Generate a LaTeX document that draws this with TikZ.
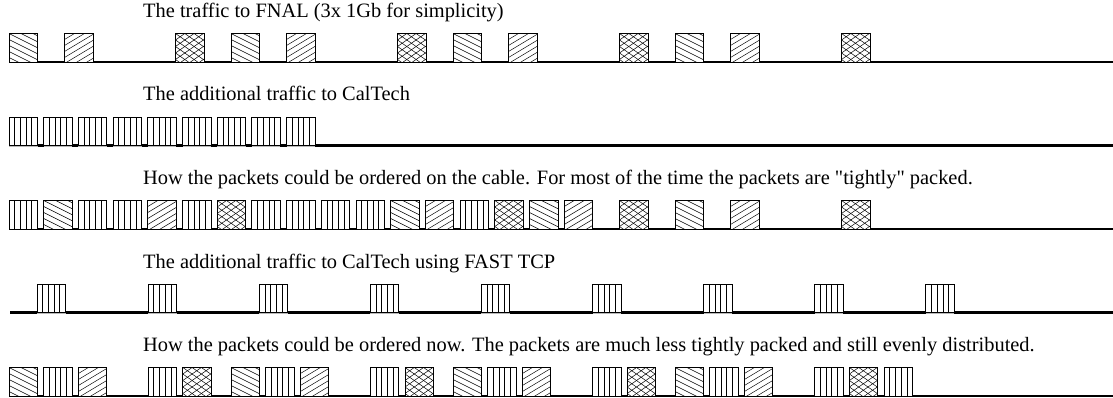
\documentclass[tikz,border=0pt]{standalone}
\usepackage{fontspec}
\setmainfont{Liberation Serif}
% a straight double quote, set by glyph so no ligature mapping curls it
\newcommand\straightquote{\XeTeXglyph\the\XeTeXcharglyph"22\relax}
\begin{document}
\begin{tikzpicture}[x=1pt,y=-1pt]
\tikzset{
  hatch/.style={line width=0.5pt, black},
  vbar/.style={line width=0.7pt, black},
  pktedge/.style={line width=0.9pt, black},
  cable/.style={line width=2.2pt, black},
  caption/.style={anchor=base west, inner sep=0pt, font=\fontsize{20.4}{24}\selectfont},
}
% packet size
\def\pw{28.5}\def\ph{28.5}
% white body of a packet sitting on the cable, grey where it rests on it
\newcommand\pktbase[2]{%
  \fill[gray!55] ({#1},{#2-0.2}) rectangle ++(\pw,1.3);
  \fill[white] ({#1},{#2}) rectangle ++(\pw,-\ph);}
\newcommand\pktrim[2]{\draw[pktedge] ({#1},{#2}) rectangle ++(\pw,-\ph);}
% FNAL packets: falling hatch, rising hatch, cross hatch
\newcommand\pktB[2]{\pktbase{#1}{#2}%
  \begin{scope}
    \clip ({#1},{#2}) rectangle ++(\pw,-\ph);
    \foreach \k in {-3,...,5}
      {\draw[hatch] ({#1},{#2-\ph+\k*6}) -- ++(\pw,{0.5*\pw});}
  \end{scope}
  \pktrim{#1}{#2}}
\newcommand\pktS[2]{\pktbase{#1}{#2}%
  \begin{scope}
    \clip ({#1},{#2}) rectangle ++(\pw,-\ph);
    \foreach \k in {0,...,8}
      {\draw[hatch] ({#1},{#2-\ph+\k*6}) -- ++(\pw,{-0.6*\pw});}
  \end{scope}
  \pktrim{#1}{#2}}
\newcommand\pktX[2]{\pktbase{#1}{#2}%
  \begin{scope}
    \clip ({#1},{#2}) rectangle ++(\pw,-\ph);
    \foreach \k in {-4,...,8}
      {\draw[hatch] ({#1},{#2-\ph+\k*6.5}) -- ++(\pw,{0.7*\pw});
       \draw[hatch] ({#1},{#2-\ph+\k*6.5}) -- ++(\pw,{-0.7*\pw});}
  \end{scope}
  \pktrim{#1}{#2}}
% CalTech packets: vertical bars
\newcommand\pktV[2]{\pktbase{#1}{#2}%
  \foreach \i in {1,...,4}
    {\draw[vbar] ({#1+\i*\pw/5},{#2}) -- ++(0,-\ph);}
  \pktrim{#1}{#2}}

\useasboundingbox (0,0) rectangle (1113,398);

% ---- FNAL traffic
\node[caption] (cap1) at (143,17.5) {The traffic to FNAL (3x 1Gb for simplicity)};
\draw[cable] (9,62) -- (1113,62);
\foreach \x in {9,231,453,675} {\pktB{\x}{62}}
\foreach \x in {64.5,286.5,508.5,730.5} {\pktS{\x}{62}}
\foreach \x in {175.5,397.5,619.5,841.5} {\pktX{\x}{62}}

% ---- CalTech traffic
\node[caption] (cap2) at (143,101) {The additional traffic to CalTech};
\draw[cable] (9,145.5) -- (1113,145.5);
\foreach \n in {0,...,8} {\pktV{9+34.7*\n}{145.5}}

% ---- both on the cable
\node[caption] (cap3) at (143,184.5) {How the packets could be ordered on the cable. For most of the time the packets are \straightquote tightly\straightquote\ packed.};
\draw[cable] (9,229) -- (1113,229);
\foreach \n in {0,2,3,5,7,8,9,10,13} {\pktV{9+34.7*\n}{229}}
\foreach \n in {1,11,15} {\pktB{9+34.7*\n}{229}}
\foreach \n in {4,12,16} {\pktS{9+34.7*\n}{229}}
\foreach \n in {6,14} {\pktX{9+34.7*\n}{229}}
\pktX{619.5}{229}
\pktB{675}{229}
\pktS{730.5}{229}
\pktX{841.5}{229}

% ---- CalTech with FAST TCP
\node[caption] (cap4) at (143,268) {The additional traffic to CalTech using FAST TCP};
\draw[cable] (10,312.5) -- (1113,312.5);
\foreach \n in {0,...,8} {\pktV{37+111.1*\n}{312.5}}

% ---- both, paced
\node[caption] (cap5) at (143,351.5) {How the packets could be ordered now. The packets are much less tightly packed and still evenly distributed.};
\draw[cable] (9,396) -- (1113,396);
\foreach \x in {9,231,453,675} {\pktB{\x}{396}}
\foreach \x in {78.4,300.4,522.4,744.4} {\pktS{\x}{396}}
\foreach \x in {182.8,405,627.2,849.4} {\pktX{\x}{396}}
\foreach \x in {43.7,148.1,265.7,370.3,487.7,592.5,709.7,814.7,884.1} {\pktV{\x}{396}}
\end{tikzpicture}
\end{document}
